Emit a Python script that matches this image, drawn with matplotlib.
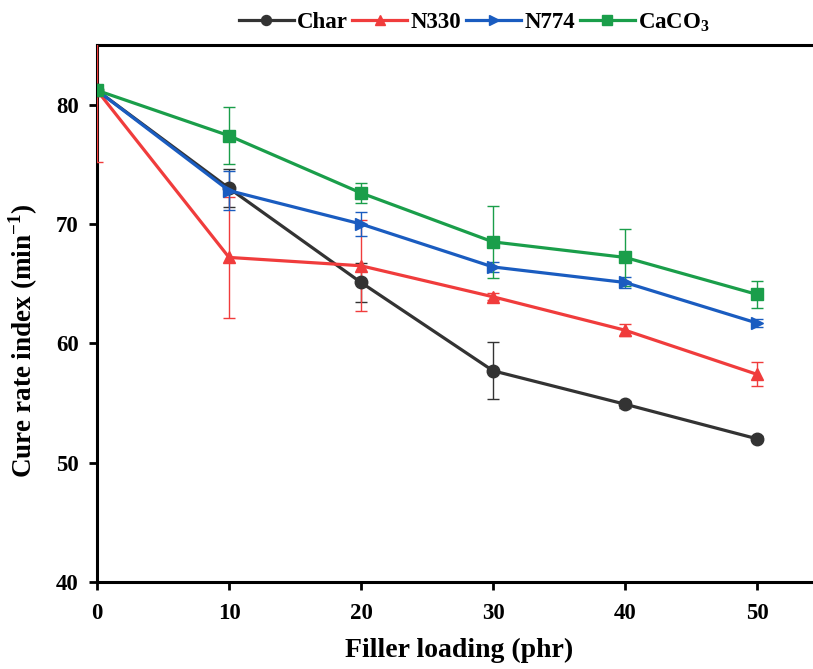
import matplotlib
matplotlib.use("Agg")
import matplotlib.pyplot as plt

plt.rcParams['font.family'] = ['Liberation Serif', 'DejaVu Serif']
plt.rcParams['mathtext.fontset'] = 'custom'
plt.rcParams['mathtext.rm'] = 'Liberation Serif:bold'
plt.rcParams['mathtext.bf'] = 'Liberation Serif:bold'

loading = [0, 10, 20, 30, 40, 50]

char = [81.2, 73.0, 65.1, 57.7, 54.9, 52.0]
char_err = [0.3, 1.6, 1.6, 2.4, 0.3, 0.2]

n330 = [81.2, 67.2, 66.5, 63.9, 61.1, 57.4]
n330_err = [6.0, 5.1, 3.8, 0.3, 0.5, 1.0]

n774 = [81.2, 72.8, 70.0, 66.4, 65.1, 61.7]
n774_err = [0.3, 1.6, 1.0, 0.4, 0.5, 0.3]

caco3 = [81.2, 77.4, 72.6, 68.5, 67.2, 64.1]
caco3_err = [0.3, 2.4, 0.8, 3.0, 2.4, 1.1]

series = [
    ("Char", char, char_err, "#333333", "o"),
    ("N330", n330, n330_err, "#f03c3c", "^"),
    ("N774", n774, n774_err, "#1a5cc0", ">"),
    ("CaCO$_3$", caco3, caco3_err, "#1a9e4a", "s"),
]

fig = plt.figure(figsize=(8.13, 6.69), dpi=100)
ax = fig.add_axes([97 / 813, 87 / 669, 1 - 97 / 813, (582 - 45) / 669])

lines = []
for label, vals, errs, color, marker in series:
    cont = ax.errorbar(loading, vals, yerr=errs, color=color, marker=marker,
                       markersize=9, linewidth=2.3, elinewidth=1.0, capsize=4,
                       capthick=1.0, label=label, ecolor=color, zorder=3)
    lines.append(cont[0])

ax.set_xlim(0, 54.24)
ax.set_ylim(40, 85)
ax.set_xticks([0, 10, 20, 30, 40, 50])
ax.set_yticks([40, 50, 60, 70, 80])

for side in ["left", "bottom", "top"]:
    ax.spines[side].set_linewidth(2.2)
ax.spines["right"].set_visible(False)

ax.tick_params(axis="both", direction="out", length=6, width=2,
               labelsize=16.5)
ax.tick_params(axis="x", pad=9)
ax.tick_params(axis="y", pad=7)
for lbl in ax.get_xticklabels() + ax.get_yticklabels():
    lbl.set_fontweight("bold")

ax.set_xlabel("Filler loading (phr)", fontsize=20, fontweight="bold")
ax.xaxis.set_label_coords(0.506, -0.104)
ax.set_ylabel("Cure rate index (min$^{\\mathbf{-1}}$)", fontsize=19.5,
              fontweight="bold")
ax.yaxis.set_label_coords(-0.079, 0.449)

leg = ax.legend(lines, [s[0] for s in series], loc="lower center",
                bbox_to_anchor=(0.527, 1.0), ncol=4, frameon=False,
                handlelength=2.4, columnspacing=0.2, handletextpad=0.15,
                borderaxespad=0.1, markerscale=0.8,
                prop={"weight": "bold", "size": 16.5})

fig.savefig("out.png", dpi=100)
